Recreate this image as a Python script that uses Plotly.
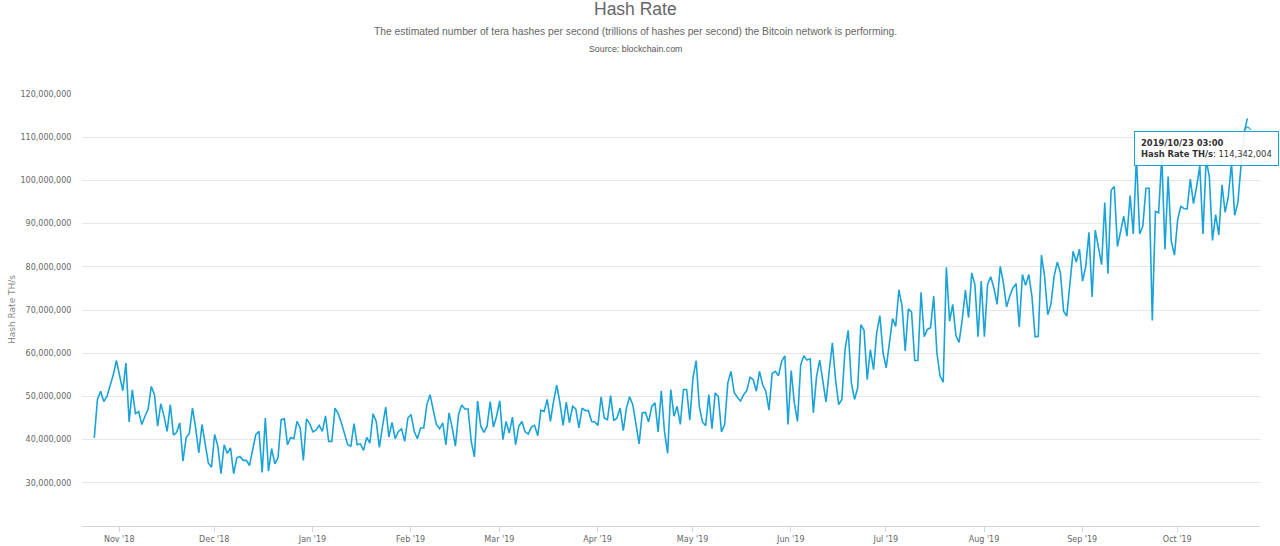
# -*- coding: utf-8 -*-

import pandas as pd
import plotly.graph_objects as go

# Daily hash rate, millions of TH/s

hash_nov_jan = [
    40.4, 49.3, 51.2, 48.8, 50.0, 52.3, 55.0, 58.3, 55.0, 51.3, 57.7, 44.1, 51.5, 46.0, 46.5, 43.5,
    45.4, 47.0, 52.3, 50.4, 43.1, 48.3, 45.5, 41.9, 48.1, 41.0, 41.7, 43.9, 35.0, 40.4, 41.5, 47.3,
    42.7, 36.9, 43.5, 38.5, 34.6, 33.6, 41.2, 38.5, 32.1, 38.8, 36.8, 38.1, 32.1, 35.8, 36.1, 35.2,
    35.2, 34.0, 37.3, 41.2, 41.9, 32.4, 45.0, 32.7, 37.9, 34.4, 35.8, 44.6, 44.8, 38.8, 40.5, 40.2,
    44.2, 42.7, 35.2, 44.8, 43.7, 41.8, 42.2, 43.3, 41.9, 45.5, 39.6, 39.6, 47.3, 46.0, 43.9, 41.5,
    38.8, 38.5, 43.7, 38.8, 39.0, 37.5, 40.5, 39.2, 46.0, 44.2, 38.2, 43.1, 47.5, 40.6, 44.0, 40.2,
    41.9, 42.5, 39.6, 45.0, 45.8, 41.9, 40.2, 42.7, 42.7, 48.1, 50.4,
]
hash_feb_jun = [
    46.9, 43.5, 42.5, 43.9, 38.8, 46.2, 42.7, 38.5, 45.8, 48.0, 47.1, 47.1, 39.6, 36.0, 48.9, 43.1,
    41.7, 43.1, 48.8, 42.9, 45.4, 49.0, 40.0, 44.2, 41.5, 45.2, 38.8, 43.1, 44.2, 41.8, 41.3, 42.9,
    43.3, 40.9, 46.8, 46.5, 49.3, 44.2, 48.9, 52.6, 48.5, 43.3, 48.7, 43.9, 47.7, 47.1, 42.7, 47.3,
    46.7, 46.7, 44.2, 44.1, 43.3, 49.9, 45.0, 44.6, 50.2, 44.4, 45.0, 47.3, 42.1, 47.3, 49.9, 48.1,
    43.5, 39.0, 46.2, 46.3, 44.1, 47.7, 48.5, 41.8, 51.3, 41.9, 36.8, 51.6, 45.4, 47.7, 43.5, 51.6,
    51.6, 44.5, 54.3, 58.3, 47.7, 44.1, 43.2, 50.4, 42.5, 50.8, 50.0, 41.8, 43.5, 53.1, 55.8, 50.9,
    49.8, 48.9, 50.4, 51.4, 54.4, 53.9, 51.2, 55.8, 52.7, 51.2, 46.8, 55.3, 55.8, 54.8, 58.1, 59.4,
    43.5, 56.0, 48.5, 44.2, 57.3, 59.4, 58.4, 58.7, 46.2, 54.5, 58.4, 53.1, 48.7, 55.8, 62.4, 53.9,
    48.1, 49.3, 60.8, 65.3, 53.1, 49.3, 52.0,
]
hash_jul_oct = [
    66.6, 65.3, 53.9, 60.8, 56.2, 64.7, 68.7, 60.1, 56.6, 62.4, 68.0, 66.2, 74.7, 70.9, 60.5, 70.3,
    69.5, 58.3, 58.3, 74.1, 63.8, 65.5, 65.9, 73.2, 60.1, 54.7, 53.3, 79.9, 67.4, 71.3, 64.1, 62.5,
    67.8, 74.6, 68.2, 78.6, 75.9, 63.8, 76.7, 63.8, 75.9, 77.7, 75.1, 71.3, 80.1, 76.3, 70.7, 73.2,
    75.1, 76.1, 66.1, 78.2, 75.7, 78.2, 73.2, 63.8, 63.9, 82.7, 77.8, 68.9, 71.3, 77.8, 81.1, 78.6,
    69.7, 68.6, 76.7, 83.6, 81.1, 84.1, 76.7, 80.1, 88.0, 73.0, 88.5, 84.7, 80.5, 94.9, 78.4, 97.7,
    98.6, 84.7, 88.6, 91.7, 87.1, 96.5, 87.6, 105.6, 87.6, 89.4, 98.2, 98.2, 67.6, 92.8, 92.5, 105.6,
    84.0, 100.9, 85.9, 82.7, 90.9, 94.0, 93.5, 93.4, 100.3, 94.6, 98.6, 103.3, 87.6, 104.8, 100.9, 86.1,
    92.1, 87.4, 99.0, 92.6, 96.3, 104.0, 91.9, 94.8, 103.3, 111.0, 114.342004,
]
y_ticks = [30, 40, 50, 60, 70, 80, 90, 100, 110, 120]

hash_rate = [v * 1e6 for v in hash_nov_jan + hash_feb_jun + hash_jul_oct]
dates = pd.date_range("2018-10-24 03:00", periods=len(hash_rate), freq="D")

tick_font = dict(family="DejaVu Sans", size=8, color="#666666")
LINE = "#1aa3d9"

fig = go.Figure()
fig.add_trace(go.Scatter(x=dates, y=hash_rate, mode="lines", line=dict(color=LINE, width=1.6)))

fig.update_layout(
    width=1280, height=546,
    margin=dict(l=82, r=20, t=93.5, b=20, autoexpand=False),
    paper_bgcolor="white", plot_bgcolor="white",
    showlegend=False,
)
fig.update_xaxes(
    automargin=False,
    range=["2018-10-20 06:00", "2019-10-27 03:00"],
    tickvals=pd.date_range("2018-11-01", "2019-10-01", freq="MS"),
    tickformat="%b '%y",
    ticks="outside", ticklen=5, tickcolor="#d0d6de",
    tickfont=tick_font, showgrid=False,
    showline=True, linecolor="#d0d6de", linewidth=1,
)
fig.update_yaxes(
    automargin=False,
    range=[20e6, 120e6],
    tickvals=[v * 1e6 for v in y_ticks],
    tickformat=",",
    tickfont=tick_font, ticks="outside", ticklen=8, tickcolor="white",
    gridcolor="#e6e6e6", gridwidth=1, zeroline=False, showline=False,
)

# Titles above the plot

for text, y, size, colour in [
    ("Hash Rate", 8, 17.5, "#666666"),
    ("The estimated number of tera hashes per second (trillions of hashes per second) the Bitcoin network is performing.", 31, 10.3, "#666666"),
    ("Source: blockchain.com", 48, 8.8, "#555555"),
]:
    fig.add_annotation(
        text=text, xref="paper", yref="paper", x=0.5, y=1, yanchor="middle",
        xshift=-36, yshift=93.5 - y, showarrow=False,
        font=dict(family="Liberation Sans", size=size, color=colour),
    )

# Axis title placed by hand so the margin stays as in the picture

fig.add_annotation(
    text="Hash Rate TH/s", xref="paper", yref="paper", x=0, y=0.5, textangle=-90,
    xshift=-77, showarrow=False,
    font=dict(family="DejaVu Sans", size=9, color="#888888"),
)

# Tooltip frozen on the last point

fig.add_annotation(
    x=dates[-1], y=hash_rate[-1], xanchor="center", yanchor="middle",
    xshift=-41, yshift=-30.5, showarrow=False, align="left",
    text="<b>2019/10/23 03:00</b><br><b>Hash Rate TH/s</b>: 114,342,004",
    font=dict(family="DejaVu Sans", size=8.4, color="#333333"),
    bgcolor="rgba(255,255,255,0.9)", bordercolor=LINE, borderwidth=1, borderpad=6,
)
fig.add_annotation(
    x=dates[-1], y=hash_rate[-1], xanchor="center", yanchor="middle",
    yshift=-13, showarrow=False, text="^",
    font=dict(family="DejaVu Sans", size=13, color=LINE),
)

# Page margin off, the figure fills the window

fig.write_html("out.html", config=dict(displayModeBar=False), post_script="document.body.style.margin='0';")
